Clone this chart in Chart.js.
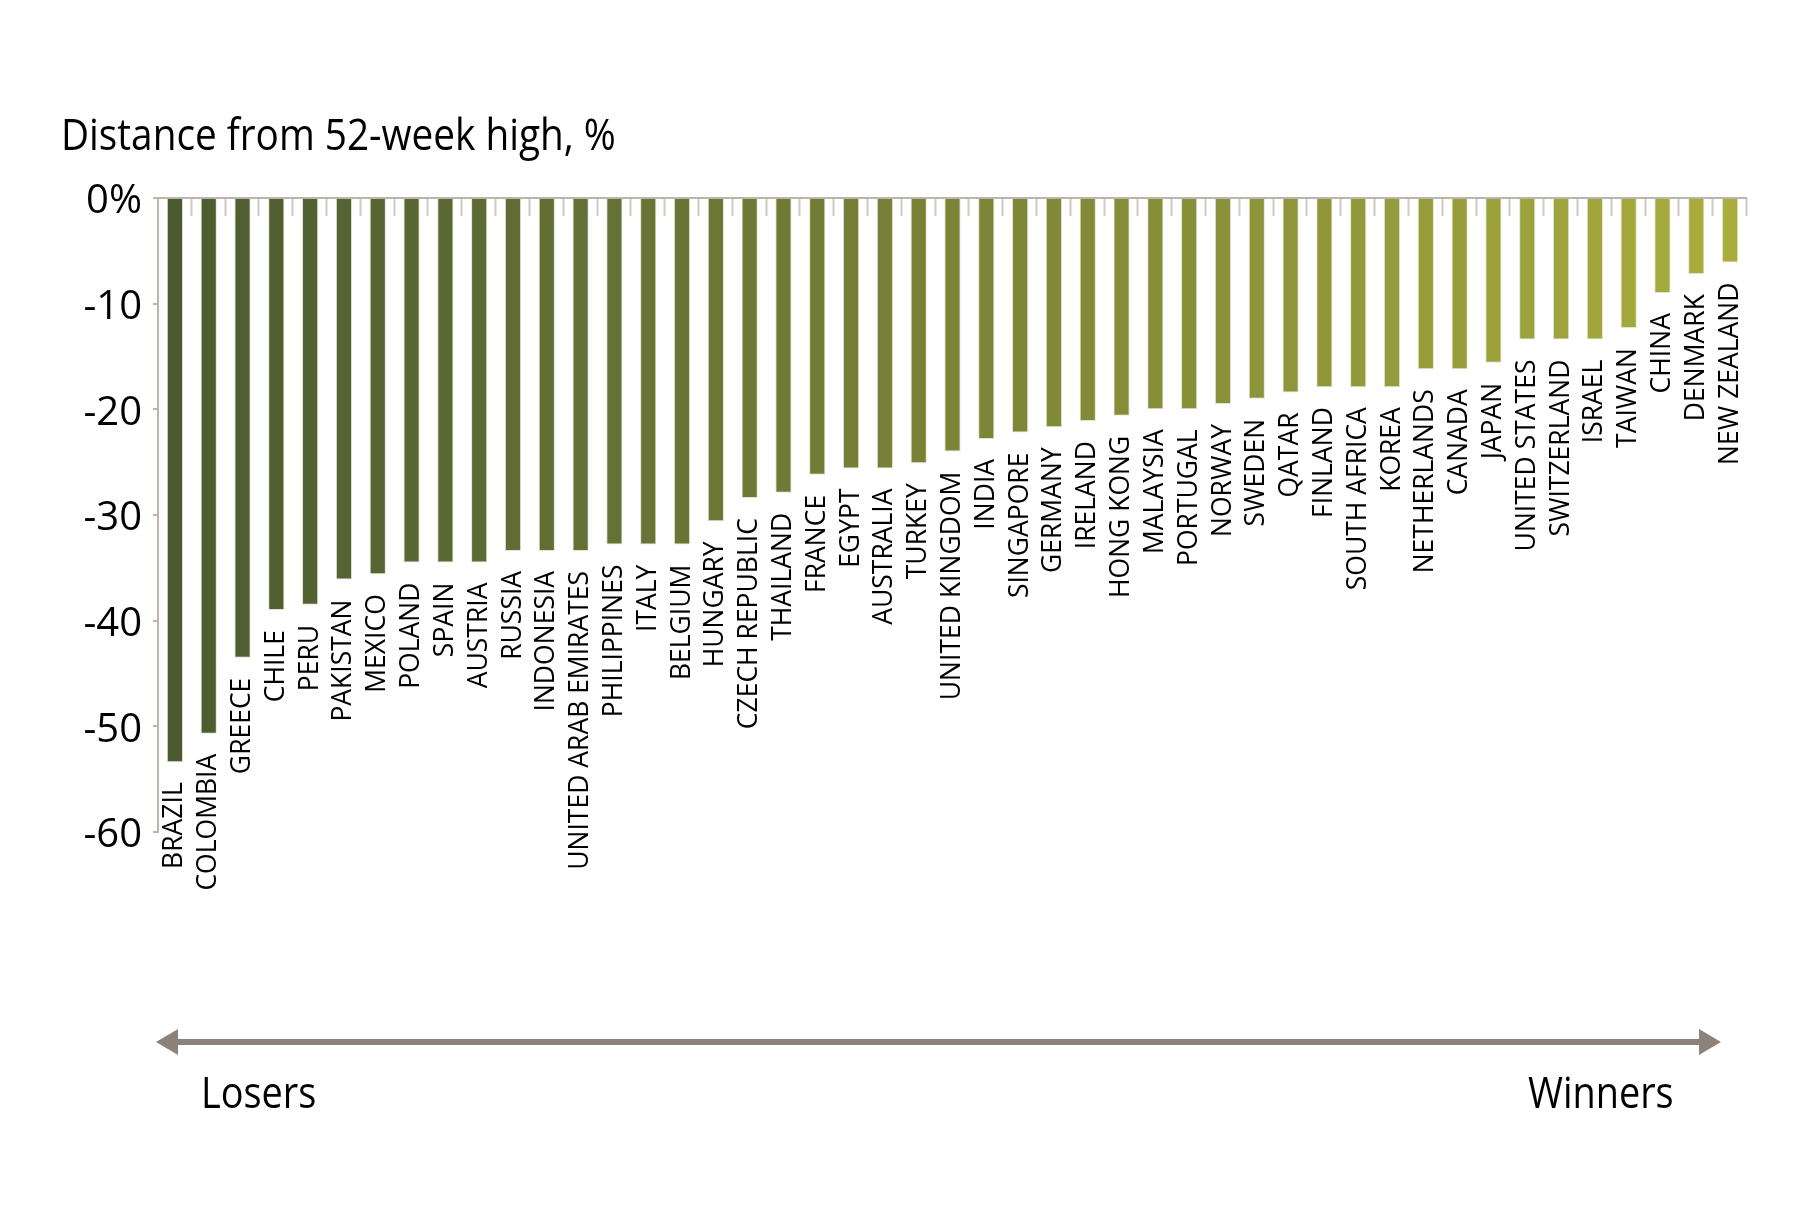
<!DOCTYPE html>
<html lang="en">
<head>
    <meta charset="UTF-8">
    <title>Distance from 52-week high</title>
    <script src="https://cdn.jsdelivr.net/npm/chart.js"></script>
    <style>
        body {
            margin: 0;
            background: #fff;
        }
        .wrap {
            position: relative;
            width: 1800px;
            height: 1218px;
            font-family: 'Open Sans', sans-serif;
        }
        canvas {
            position: absolute;
            left: 0;
            top: 0;
        }
        .txt {
            position: absolute;
            font-size: 44px;
            line-height: 44px;
            color: #000;
            white-space: nowrap;
            transform: scaleX(0.86);
            transform-origin: left top;
        }
        svg {
            position: absolute;
            left: 0;
            top: 0;
        }
    </style>
</head>
<body>
    <div class="wrap">
        <canvas id="chart" width="1800" height="1218"></canvas>
        <div class="txt" style="left:61px; top:111px; transform:scaleX(0.88);">Distance from 52-week high, %</div>
        <svg width="1800" height="1218">
            <line x1="174" y1="1042" x2="1703" y2="1042" stroke="#8c8279" stroke-width="6"/>
            <polygon points="156,1042 178,1029 178,1055" fill="#8c8279"/>
            <polygon points="1721,1042 1699,1029 1699,1055" fill="#8c8279"/>
        </svg>
        <div class="txt" style="left:201px; top:1069px;">Losers</div>
        <div class="txt" style="left:1528px; top:1069px;">Winners</div>
    </div>

    <script>
        // data
        const countries = ['BRAZIL', 'COLOMBIA', 'GREECE', 'CHILE', 'PERU', 'PAKISTAN', 'MEXICO', 'POLAND',
            'SPAIN', 'AUSTRIA', 'RUSSIA', 'INDONESIA', 'UNITED ARAB EMIRATES', 'PHILIPPINES', 'ITALY',
            'BELGIUM', 'HUNGARY', 'CZECH REPUBLIC', 'THAILAND', 'FRANCE', 'EGYPT', 'AUSTRALIA', 'TURKEY',
            'UNITED KINGDOM', 'INDIA', 'SINGAPORE', 'GERMANY', 'IRELAND', 'HONG KONG', 'MALAYSIA',
            'PORTUGAL', 'NORWAY', 'SWEDEN', 'QATAR', 'FINLAND', 'SOUTH AFRICA', 'KOREA', 'NETHERLANDS',
            'CANADA', 'JAPAN', 'UNITED STATES', 'SWITZERLAND', 'ISRAEL', 'TAIWAN', 'CHINA', 'DENMARK',
            'NEW ZEALAND'];
        const distance = [-53.4, -50.7, -43.5, -39.0, -38.5, -36.1, -35.6, -34.5,
            -34.5, -34.5, -33.4, -33.4, -33.4, -32.8, -32.8,
            -32.8, -30.6, -28.4, -27.9, -26.2, -25.6, -25.6, -25.1,
            -24.0, -22.8, -22.2, -21.7, -21.1, -20.6, -20.0,
            -20.0, -19.5, -19.0, -18.4, -17.9, -17.9, -17.9, -16.2,
            -16.2, -15.6, -13.4, -13.4, -13.4, -12.3, -9.0, -7.2,
            -6.1];
        const yTicks = [0, -10, -20, -30, -40, -50, -60];

        // colour ramp dark olive -> light olive
        const c0 = [76, 90, 50], c1 = [168, 173, 60];
        const barColors = countries.map((_, i) => {
            const t = i / (countries.length - 1);
            const c = c0.map((v, k) => Math.round(v + (c1[k] - v) * t));
            return `rgb(${c[0]},${c[1]},${c[2]})`;
        });

        // category names under each bar + small ticks under the top axis
        const barLabels = {
            id: 'barLabels',
            afterDatasetsDraw(chart) {
                const ctx = chart.ctx;
                const meta = chart.getDatasetMeta(0);
                const area = chart.chartArea;
                const step = (area.right - area.left) / countries.length;

                ctx.save();
                ctx.strokeStyle = '#cfc8c2';
                ctx.lineWidth = 2;
                for (let i = 1; i <= countries.length; i++) {
                    const px = Math.round(area.left + step * i) - 0.5;
                    ctx.beginPath();
                    ctx.moveTo(px, area.top);
                    ctx.lineTo(px, area.top + 18);
                    ctx.stroke();
                }
                ctx.strokeStyle = '#bdb5ad';
                ctx.beginPath();
                ctx.moveTo(area.left, area.top);
                ctx.lineTo(area.right, area.top);
                ctx.stroke();
                ctx.restore();

                meta.data.forEach((bar, i) => {
                    ctx.save();
                    ctx.translate(bar.x, bar.y + 20);
                    ctx.rotate(-Math.PI / 2);
                    ctx.fillStyle = '#000';
                    ctx.font = '26.5px "Open Sans"';
                    ctx.textAlign = 'right';
                    ctx.textBaseline = 'middle';
                    ctx.fillText(countries[i], 0, 0);
                    ctx.restore();
                });
            }
        };

        new Chart(document.getElementById('chart'), {
            type: 'bar',
            data: {
                labels: countries,
                datasets: [{
                    data: distance,
                    backgroundColor: barColors,
                    borderColor: 'rgba(220, 220, 200, 0.8)',
                    borderWidth: 1,
                    categoryPercentage: 1,
                    barPercentage: 0.48
                }]
            },
            options: {
                responsive: false,
                animation: false,
                devicePixelRatio: 1,
                layout: { padding: { left: 0, right: 53, top: 198, bottom: 386 } },
                plugins: {
                    legend: { display: false },
                    tooltip: { enabled: false }
                },
                scales: {
                    x: {
                        display: false
                    },
                    y: {
                        min: -60,
                        max: 0,
                        afterFit(scale) { scale.width = 158; },
                        afterBuildTicks(scale) { scale.ticks = yTicks.map(v => ({ value: v })); },
                        ticks: {
                            padding: 11,
                            labelOffset: 4,
                            color: '#000',
                            font: { family: 'Open Sans', size: 40 },
                            callback: v => v === 0 ? '0%' : String(v)
                        },
                        grid: {
                            drawOnChartArea: false,
                            tickLength: 5,
                            color: '#bdb5ad',
                            lineWidth: 2
                        },
                        border: { display: true, color: '#bdb5ad', width: 2 }
                    }
                }
            },
            plugins: [barLabels]
        });
    </script>
</body>
</html>
